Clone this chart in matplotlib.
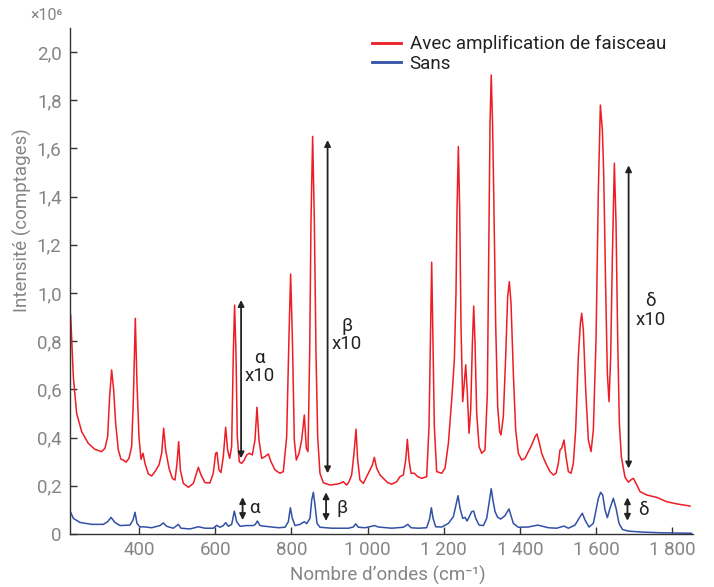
import matplotlib
matplotlib.use("Agg")
import matplotlib.pyplot as plt

plt.rcParams['font.family'] = ['Roboto', 'DejaVu Sans']

# ---- data ----
red_x = [220.7, 227.7, 236.4, 249.6, 267, 284.6, 302, 310.8, 317.8, 323, 328.3, 333.6, 338.8, 345.8,
         352.8, 359, 366, 373.8, 380.8, 385.2, 390.4, 394.8, 400, 405.3, 410.6, 415.8, 424.6, 433.3,
         442, 452.5, 459.6, 464.8, 470, 478.8, 487.5, 494.6, 499.8, 504.2, 508.6, 516.4, 529.6, 542.7,
         549.7, 555.8, 562.8, 573.3, 586.3, 595, 601.2, 604.7, 610, 615.2, 621.3, 627.5, 632.7, 638,
         643.2, 647.6, 651, 654.6, 658, 663.3, 669.4, 676.4, 682.6, 689.6, 697.5, 704.5, 709.7, 715,
         722, 730.7, 739.5, 746.5, 757, 770, 778.8, 787.6, 793.7, 798, 802.5, 807.7, 813, 820, 827,
         834, 839.2, 843.6, 848, 851.5, 855.8, 860.2, 864.6, 869, 875, 883.8, 901.3, 918.8, 927.6,
         936.3, 945, 951.2, 958.2, 964.3, 969.6, 974, 980, 988.8, 997.6, 1006.3, 1012.5, 1017.7,
         1023.8, 1032.6, 1041.3, 1052.7, 1063.2, 1076.3, 1085, 1093.8, 1100, 1104.3, 1108.7, 1114,
         1122.7, 1131.5, 1142, 1155, 1161.2, 1164.7, 1168.2, 1171.7, 1175.2, 1181.3, 1194.5, 1203.2,
         1212, 1220.7, 1227.7, 1232, 1234.7, 1238.2, 1241.7, 1245.2, 1249.6, 1253, 1257.5, 1261.8,
         1266.2, 1270.6, 1275, 1278.5, 1282, 1286.3, 1292.5, 1299.5, 1308.2, 1314.3, 1317.8, 1321.3,
         1324.5, 1328, 1330.9, 1336.1, 1341.4, 1346.6, 1350.1, 1356.2, 1362.4, 1367.6, 1372, 1376.4,
         1382.5, 1388.6, 1395.6, 1404.4, 1413.1, 1421.9, 1430.6, 1439.4, 1444.6, 1449.9, 1456.9,
         1463.9, 1470, 1478.7, 1487.5, 1494.5, 1500.6, 1505, 1509.4, 1515.5, 1520.7, 1526.9, 1533.8,
         1539.9, 1546.1, 1553.1, 1558.4, 1561.9, 1566.2, 1572.4, 1579.4, 1586.4, 1592.5, 1599.5,
         1605.6, 1610.9, 1616.1, 1619.6, 1624.9, 1629.2, 1633.6, 1638, 1642.4, 1647.6, 1652, 1656.4,
         1660.7, 1666, 1675.6, 1684.4, 1693, 1697.5, 1704.5, 1715, 1732.4, 1758.7, 1785, 1811.2, 1846.2]
red_y = [0.909, 0.653, 0.501, 0.425, 0.376, 0.351, 0.342, 0.356, 0.404, 0.57, 0.681, 0.598, 0.459, 0.349,
         0.31, 0.307, 0.298, 0.314, 0.363, 0.556, 0.895, 0.625, 0.404, 0.31, 0.335, 0.293, 0.249, 0.241,
         0.259, 0.286, 0.335, 0.439, 0.349, 0.273, 0.231, 0.224, 0.293, 0.383, 0.266, 0.21, 0.194, 0.21,
         0.245, 0.277, 0.245, 0.213, 0.212, 0.252, 0.335, 0.339, 0.266, 0.255, 0.321, 0.443, 0.349, 0.314,
         0.363, 0.75, 0.95, 0.75, 0.404, 0.3, 0.293, 0.307, 0.328, 0.335, 0.328, 0.39, 0.526, 0.39,
         0.314, 0.321, 0.332, 0.3, 0.266, 0.252, 0.259, 0.404, 0.819, 1.079, 0.819, 0.39, 0.307, 0.335, 0.39,
         0.494, 0.356, 0.342, 0.75, 1.303, 1.65, 1.303, 0.75, 0.404, 0.252, 0.213, 0.203, 0.207, 0.21,
         0.217, 0.203, 0.217, 0.245, 0.335, 0.435, 0.307, 0.224, 0.21, 0.238, 0.266, 0.286, 0.318,
         0.273, 0.245, 0.231, 0.213, 0.207, 0.217, 0.238, 0.245, 0.307, 0.393, 0.307, 0.252,
         0.252, 0.238, 0.231, 0.238, 0.446, 0.791, 1.128, 0.791, 0.446, 0.259, 0.252, 0.273,
         0.376, 0.556, 0.722, 0.999, 1.345, 1.608, 1.345, 0.861, 0.549, 0.611, 0.702, 0.584,
         0.418, 0.515, 0.791, 0.946, 0.791, 0.501, 0.363, 0.335, 0.349, 0.584, 1.137, 1.705,
         1.905, 1.70, 1.428, 0.874, 0.528, 0.425, 0.411, 0.487, 0.736, 0.985, 1.047, 0.958,
         0.667, 0.432, 0.335, 0.307, 0.314, 0.342, 0.369, 0.404, 0.415, 0.383, 0.335,
         0.307, 0.286, 0.259, 0.245, 0.252, 0.293, 0.349, 0.356, 0.39, 0.321, 0.259, 0.252,
         0.293, 0.432, 0.736, 0.874, 0.916, 0.847, 0.598, 0.39, 0.342, 0.432, 0.805,
         1.428, 1.78, 1.677, 1.497, 1.013, 0.667, 0.549, 0.736, 1.151, 1.539, 1.289, 0.805,
         0.459, 0.32, 0.235, 0.215, 0.227, 0.231, 0.21, 0.176, 0.162, 0.152, 0.134, 0.125, 0.116]

blue_x = [220.7, 227.7, 245.2, 275.8, 306.4, 317.8, 326.6, 337, 350.2, 376.4, 384.3, 389.6, 394.8, 402.7,
          411.4, 433.3, 455.2, 463.9, 472.7, 490.2, 503.3, 510.3, 533.9, 555.8, 573.3, 595.2, 604, 612.7,
          621.4, 627.5, 634.6, 643.3, 650.3, 656.4, 665.2, 682.7, 700.2, 705.4, 710.7, 717.7, 730.8,
          748.3, 765.8, 783.3, 792, 797.3, 802.5, 809.5, 822.6, 834, 840, 848.9, 853.3, 857.6, 862,
          867.3, 875, 905.8, 949.5, 962.6, 968.8, 975.8, 993.3, 1010.8, 1017.8, 1028.3, 1063.3, 1093.9,
          1105.3, 1114, 1133.3, 1155.1, 1163, 1167.4, 1171.8, 1178.8, 1194.5, 1212, 1225.1, 1232,
          1237.4, 1242.6, 1249.6, 1255.8, 1261, 1267, 1273.3, 1278.5, 1283.8, 1292.5, 1303.9, 1312.6,
          1319, 1324.5, 1329, 1334.4, 1341, 1349, 1360, 1371.1, 1382.5, 1395.6, 1421.9, 1446.4, 1474.4,
          1496.2, 1515.5, 1526.9, 1544.4, 1557.5, 1563.6, 1570.6, 1581.1, 1592.5, 1605.6, 1611.7, 1617,
          1623.1, 1629.2, 1636.2, 1645, 1652, 1659.9, 1668.6, 1684.4, 1719.4, 1771.9, 1850]
blue_y = [0.090, 0.065, 0.048, 0.040, 0.040, 0.051, 0.069, 0.048, 0.035, 0.037, 0.058, 0.090, 0.044, 0.029,
          0.030, 0.026, 0.035, 0.046, 0.032, 0.024, 0.040, 0.024, 0.021, 0.030, 0.024, 0.024, 0.036, 0.028,
          0.035, 0.047, 0.032, 0.040, 0.095, 0.051, 0.032, 0.035, 0.035, 0.040, 0.054, 0.035, 0.032,
          0.029, 0.026, 0.028, 0.051, 0.109, 0.065, 0.035, 0.040, 0.051, 0.043, 0.065, 0.141, 0.173, 0.12,
          0.044, 0.028, 0.024, 0.024, 0.029, 0.042, 0.028, 0.026, 0.032, 0.035, 0.029, 0.024, 0.028,
          0.040, 0.026, 0.024, 0.026, 0.065, 0.109, 0.065, 0.030, 0.029, 0.044, 0.072, 0.12,
          0.159, 0.107, 0.065, 0.069, 0.054, 0.072, 0.093, 0.095, 0.065, 0.037, 0.035, 0.065,
          0.130, 0.188, 0.140, 0.093, 0.070, 0.062, 0.075, 0.104, 0.044, 0.028, 0.029, 0.037, 0.026,
          0.024, 0.033, 0.024, 0.037, 0.072, 0.086, 0.058, 0.029, 0.044, 0.148, 0.173, 0.162,
          0.1, 0.068, 0.107, 0.148, 0.107, 0.044, 0.019, 0.012, 0.008, 0.005, 0.003]

series_labels = ["Avec amplification de faisceau", "Sans"]

x_ticks = [400, 600, 800, 1000, 1200, 1400, 1600, 1800]
x_tick_labels = ["400", "600", "800", "1 000", "1 200", "1 400", "1 600", "1 800"]
y_ticks = [0, 0.2, 0.4, 0.6, 0.8, 1.0, 1.2, 1.4, 1.6, 1.8, 2.0]
y_tick_labels = ["0", "0,2", "0,4", "0,6", "0,8", "1,0", "1,2", "1,4", "1,6", "1,8", "2,0"]

# annotation arrows: (x, y_bottom, y_top)
big_arrows = [(668, 0.314, 0.971), (895, 0.252, 1.635), (1685, 0.272, 1.53)]
big_labels = ["α", "β", "δ"]
big_label_pos = [(716, 0.73, 0.655), (945, 0.865, 0.79), (1742, 0.965, 0.89)]
small_arrows = [(672, 0.058, 0.153), (891, 0.054, 0.173), (1682, 0.055, 0.152)]
small_label_pos = [(703, 0.109), (934, 0.109), (1723, 0.098)]

# ---- figure ----
fig = plt.figure(figsize=(7.14, 5.87), dpi=100)
ax = fig.add_axes([70 / 714, 1 - 534 / 587, 623 / 714, 506 / 587])

red = "#ee1c24"
blue = "#3150a6"
ax.plot(red_x, red_y, color=red, lw=1.1, label=series_labels[0])
ax.plot(blue_x, blue_y, color=blue, lw=1.1, label=series_labels[1])

ax.set_xlim(219, 1854)
ax.set_ylim(0, 2.1)

gray = "#858585"
ax.set_xticks(x_ticks)
ax.set_xticklabels(x_tick_labels)
ax.set_yticks(y_ticks)
ax.set_yticklabels(y_tick_labels)
ax.tick_params(direction="in", length=5, width=1, colors="#333333", labelcolor=gray, labelsize=13.5)
ax.tick_params(axis="y", pad=6)
ax.tick_params(axis="x", pad=5)
for s in ["top", "right"]:
    ax.spines[s].set_visible(False)
for s in ["left", "bottom"]:
    ax.spines[s].set_color("#333333")
    ax.spines[s].set_linewidth(1)

ax.set_xlabel("Nombre d’ondes (cm⁻¹)", color=gray, fontsize=13.5)
ax.set_ylabel("Intensité (comptages)", color=gray, fontsize=13.5)
ax.xaxis.set_label_coords((388 - 70) / 623, -(566 - 534) / 506)
ax.yaxis.set_label_coords(-(70 - 32) / 623, (534 - 220) / 506)
fig.text(30 / 714, 1 - 16 / 587, "×10⁶", color=gray, fontsize=11.5, va="center", ha="left")

arrow_color = "#222222"
for (x, y0, y1) in big_arrows:
    ax.annotate("", xy=(x, y1), xytext=(x, y0),
                arrowprops=dict(arrowstyle="<|-|>", color=arrow_color, lw=1.3,
                                mutation_scale=9, shrinkA=0, shrinkB=0))
for lab, (x, ya, yb) in zip(big_labels, big_label_pos):
    ax.text(x, ya, lab, ha="center", va="center", fontsize=13.5, color="#222222")
    ax.text(x, yb, "x10", ha="center", va="center", fontsize=13.5, color="#222222")
for (x, y0, y1) in small_arrows:
    ax.annotate("", xy=(x, y1), xytext=(x, y0),
                arrowprops=dict(arrowstyle="<|-|>", color=arrow_color, lw=1.3,
                                mutation_scale=9, shrinkA=0, shrinkB=0))
for lab, (x, y) in zip(big_labels, small_label_pos):
    ax.text(x, y, lab, ha="center", va="center", fontsize=13.5, color="#222222")

leg = ax.legend(loc="upper left", bbox_to_anchor=((372 - 70) / 623, (534 - 35) / 506), frameon=False,
                fontsize=13.5, handlelength=1.55, handletextpad=0.45, labelspacing=0.1,
                borderaxespad=0, borderpad=0)
for t in leg.get_texts():
    t.set_color("#222222")
for l in leg.get_lines():
    l.set_linewidth(2)

fig.savefig("out.png", dpi=100)
